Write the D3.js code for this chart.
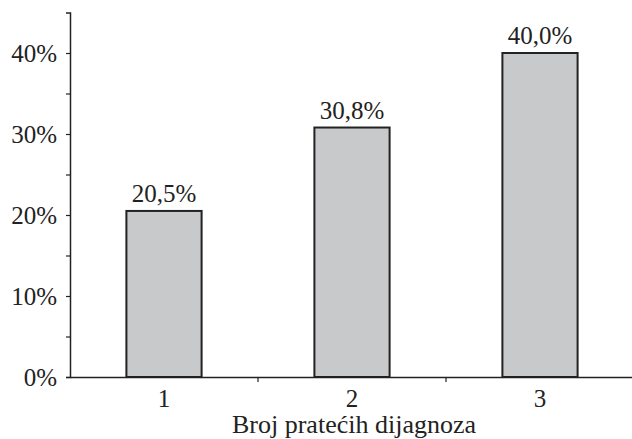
<!DOCTYPE html>
<html>
<head>
<meta charset="utf-8">
<script src="https://cdn.jsdelivr.net/npm/d3@7"></script>
<style>
  body { margin: 0; background: #fff; }
  svg { display: block; }
</style>
</head>
<body>
<div id="chart"></div>
<script>
const categories = ["1", "2", "3"];
const values = [20.5, 30.8, 40.0];
const valueLabels = ["20,5%", "30,8%", "40,0%"];
const yTicks = [0, 5, 10, 15, 20, 25, 30, 35, 40];
const xTitle = "Broj pratećih dijagnoza";

const serif = "'Liberation Serif', 'Times New Roman', Times, 'Nimbus Roman', serif";

function barPlot() {
    const width = 632, height = 439;
    const margin = { top: 12.5, right: -2, bottom: 62, left: 70 };

    const svg = d3.select("#chart")
        .append("svg")
        .attr("width", width)
        .attr("height", height)
        .style("font-family", serif);

    const x = d3.scaleBand()
        .domain(categories)
        .range([margin.left, width - margin.right])
        .padding(0);

    const y = d3.scaleLinear()
        .domain([0, 45])
        .range([height - margin.bottom, margin.top]);

    // y axis
    const yAxis = svg.append("g")
        .attr("transform", `translate(${margin.left},0)`)
        .call(d3.axisLeft(y)
            .tickValues(yTicks)
            .tickSize(4)
            .tickPadding(9)
            .tickFormat(d => d % 10 === 0 ? d + "%" : ""));
    yAxis.attr("font-family", null).attr("font-size", null);
    yAxis.select(".domain").attr("stroke", "#222").attr("stroke-width", 1.5);
    yAxis.selectAll(".tick line").attr("stroke", "#222").attr("stroke-width", 1.2);
    yAxis.selectAll("text")
        .style("font-size", "25px")
        .attr("fill", "#222");

    // bars
    const barW = x.bandwidth() * 0.4;
    svg.selectAll(".bar")
        .data(values)
        .enter().append("rect")
        .attr("class", "bar")
        .attr("x", (d, i) => x(categories[i]) + (x.bandwidth() - barW) / 2)
        .attr("y", d => y(d))
        .attr("width", barW)
        .attr("height", d => y(0) - y(d))
        .attr("fill", "#c8c9cb")
        .attr("stroke", "#222")
        .attr("stroke-width", 2);

    // value labels
    svg.selectAll(".label")
        .data(values)
        .enter().append("text")
        .attr("class", "label")
        .attr("x", (d, i) => x(categories[i]) + x.bandwidth() / 2)
        .attr("y", d => y(d) - 9)
        .attr("text-anchor", "middle")
        .attr("fill", "#222")
        .style("font-size", "25px")
        .text((d, i) => valueLabels[i]);

    // x axis
    const xAxis = svg.append("g")
        .attr("transform", `translate(0,${y(0)})`)
        .call(d3.axisBottom(x).tickSize(0).tickPadding(12));
    xAxis.attr("font-family", null).attr("font-size", null);
    xAxis.select(".domain").attr("stroke", "#222").attr("stroke-width", 1.5);
    xAxis.selectAll("text")
        .style("font-size", "25px")
        .attr("fill", "#222");

    // boundary ticks between categories
    svg.append("g")
        .selectAll("line")
        .data(categories.slice(1))
        .enter().append("line")
        .attr("x1", d => x(d))
        .attr("x2", d => x(d))
        .attr("y1", y(0))
        .attr("y2", y(0) + 5)
        .attr("stroke", "#222")
        .attr("stroke-width", 1.2);

    svg.append("text")
        .attr("x", 354)
        .attr("y", 432.5)
        .attr("text-anchor", "middle")
        .attr("fill", "#222")
        .style("font-size", "26px")
        .text(xTitle);
}

barPlot();
</script>
</body>
</html>
